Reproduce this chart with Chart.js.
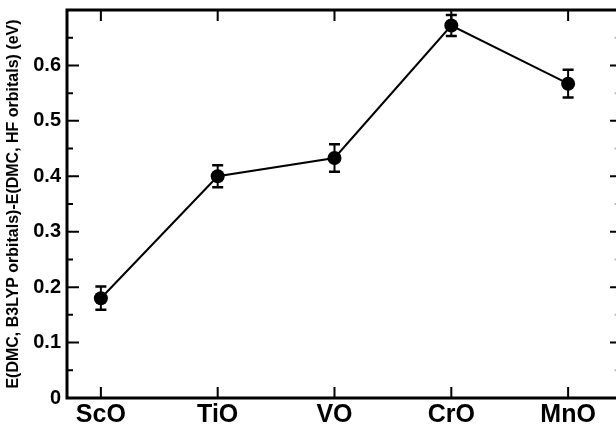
<!DOCTYPE html>
<html>
<head>
<meta charset="utf-8">
<script src="https://cdn.jsdelivr.net/npm/chart.js@4"></script>
<style>
  html, body { margin: 0; padding: 0; background: #fff; overflow: hidden; }
  #wrap { width: 616px; height: 427px; position: relative; }
</style>
</head>
<body>
<div id="wrap"><canvas id="chart"></canvas></div>
<script>
const categories = ["ScO", "TiO", "VO", "CrO", "MnO"];
const energyDiff = [0.18, 0.40, 0.433, 0.672, 0.567];
const errorSize = [0.021, 0.02, 0.025, 0.019, 0.025];
const yMajorTicks = [0, 0.1, 0.2, 0.3, 0.4, 0.5, 0.6, 0.7];
const yMinorTicks = [0.05, 0.15, 0.25, 0.35, 0.45, 0.55, 0.65];

const points = categories.map((c, i) => ({ x: i + 1, y: energyDiff[i] }));
const FONT = "Liberation Sans, Arial, sans-serif";

// error bars drawn under the markers
const errorBars = {
    id: "errorBars",
    beforeDatasetsDraw(chart) {
        const { ctx, scales } = chart;
        ctx.save();
        ctx.strokeStyle = "#000";
        points.forEach((p, i) => {
            const x = scales.x.getPixelForValue(p.x);
            const yTop = scales.y.getPixelForValue(p.y + errorSize[i]);
            const yBot = scales.y.getPixelForValue(p.y - errorSize[i]);
            ctx.lineWidth = 2;
            ctx.beginPath();
            ctx.moveTo(x, yTop);
            ctx.lineTo(x, yBot);
            ctx.stroke();
            ctx.lineWidth = 2.5;
            ctx.beginPath();
            ctx.moveTo(x - 5.5, yTop);
            ctx.lineTo(x + 5.5, yTop);
            ctx.moveTo(x - 5.5, yBot);
            ctx.lineTo(x + 5.5, yBot);
            ctx.stroke();
        });
        ctx.restore();
    }
};

// frame and inward tick marks; the right axis sits just past the canvas edge
const frame = {
    id: "frame",
    afterDraw(chart) {
        const { ctx, chartArea: a, scales } = chart;
        const right = chart.width;
        ctx.save();
        ctx.strokeStyle = "#000";
        ctx.lineWidth = 2;
        ctx.beginPath();
        yMajorTicks.forEach(v => {
            const y = scales.y.getPixelForValue(v);
            ctx.moveTo(a.left, y); ctx.lineTo(a.left + 12, y);
            ctx.moveTo(right, y); ctx.lineTo(right - 6, y);
        });
        yMinorTicks.forEach(v => {
            const y = scales.y.getPixelForValue(v);
            ctx.moveTo(a.left, y); ctx.lineTo(a.left + 6, y);
        });
        categories.forEach((c, i) => {
            const x = scales.x.getPixelForValue(i + 1);
            ctx.moveTo(x, a.bottom); ctx.lineTo(x, a.bottom - 11);
            ctx.moveTo(x, a.top); ctx.lineTo(x, a.top + 11);
        });
        ctx.stroke();

        ctx.strokeStyle = "#bbb";
        ctx.lineWidth = 2;
        ctx.beginPath();
        yMinorTicks.forEach(v => {
            const y = scales.y.getPixelForValue(v);
            ctx.moveTo(right, y); ctx.lineTo(right - 1.5, y);
        });
        ctx.stroke();

        ctx.strokeStyle = "#000";
        ctx.lineWidth = 3;
        ctx.beginPath();
        ctx.moveTo(right, a.top);
        ctx.lineTo(a.left, a.top);
        ctx.lineTo(a.left, a.bottom);
        ctx.lineTo(right, a.bottom);
        ctx.stroke();
        ctx.restore();
    }
};

new Chart(document.getElementById("chart"), {
    type: "line",
    data: {
        datasets: [{
            data: points,
            borderColor: "#000",
            borderWidth: 2,
            backgroundColor: "#000",
            pointRadius: 7,
            pointHoverRadius: 7,
            pointBackgroundColor: "#000",
            pointBorderWidth: 0,
            tension: 0,
            clip: false
        }]
    },
    options: {
        responsive: true,
        maintainAspectRatio: false,
        animation: false,
        layout: { padding: 0 },
        plugins: { legend: { display: false }, tooltip: { enabled: false } },
        scales: {
            x: {
                type: "linear",
                min: 0.71,
                max: 5.35,
                grid: { display: false, drawTicks: false },
                border: { display: false },
                afterFit(scale) {
                    scale.height = 29;
                    scale.paddingLeft = 0;
                    scale.paddingRight = 0;
                },
                ticks: {
                    stepSize: 1,
                    includeBounds: false,
                    autoSkip: false,
                    maxRotation: 0,
                    padding: 2,
                    color: "#000",
                    font: { family: FONT, size: 25, weight: "bold" },
                    callback: v => categories[v - 1] || ""
                }
            },
            y: {
                min: 0,
                max: 0.7,
                grid: { display: false, drawTicks: false },
                border: { display: false },
                afterFit(scale) {
                    scale.width = 67;
                    scale.paddingTop = 10;
                    scale.paddingBottom = 0;
                },
                title: {
                    display: true,
                    text: "E(DMC, B3LYP orbitals)-E(DMC, HF orbitals) (eV)",
                    color: "#000",
                    padding: { top: 4, bottom: 0 },
                    font: { family: FONT, size: 16, weight: "bold" }
                },
                ticks: {
                    stepSize: 0.1,
                    padding: 6,
                    color: "#000",
                    font: { family: FONT, size: 20, weight: "bold" },
                    callback: v => {
                        const r = Math.round(v * 10) / 10;
                        if (r >= 0.7) return "";
                        return r === 0 ? "0" : r.toFixed(1);
                    }
                }
            }
        }
    },
    plugins: [errorBars, frame]
});
</script>
</body>
</html>
